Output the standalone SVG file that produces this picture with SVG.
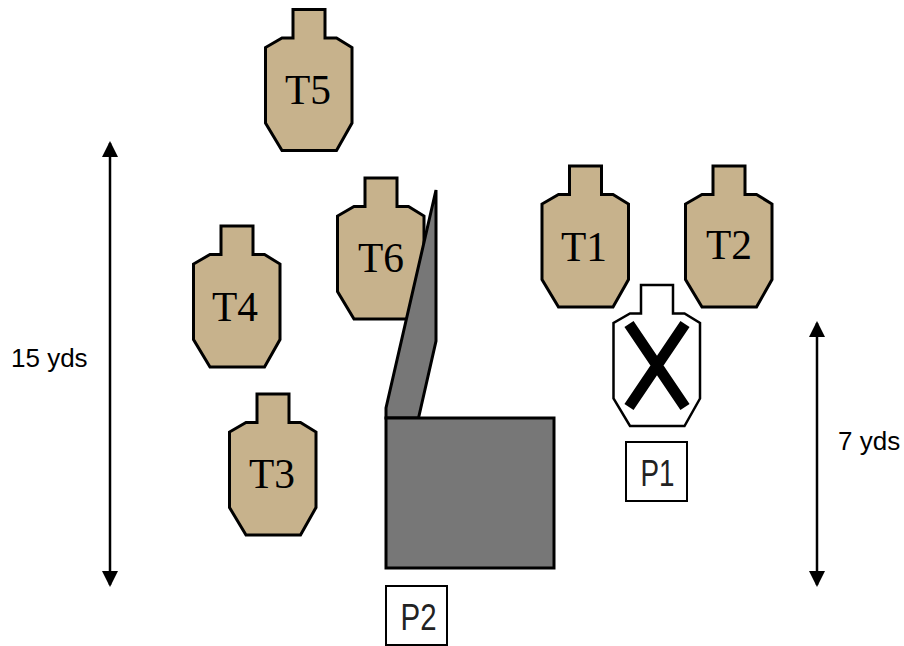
<svg xmlns="http://www.w3.org/2000/svg" width="904" height="646" viewBox="0 0 904 646">
<style>
.t{fill:#c7b28c;stroke:#000;stroke-width:3;stroke-linejoin:miter}
.tl{font-family:"Liberation Serif","Times New Roman",serif;font-size:43px;fill:#000;text-anchor:middle}
.gray{fill:#777;stroke:#000;stroke-width:3}
.box{fill:#fff;stroke:#000;stroke-width:2}
.pl{font-family:"Liberation Sans",Arial,sans-serif;font-size:37px;fill:#222;text-anchor:middle}
.dl{font-family:"Liberation Sans",Arial,sans-serif;font-size:26px;fill:#000}
.arr{fill:none;stroke:#000;stroke-width:2.5;marker-start:url(#ah);marker-end:url(#ah)}
</style>
<defs>
<marker id="ah" viewBox="0 0 16 16" refX="14" refY="8" markerWidth="16" markerHeight="16" markerUnits="userSpaceOnUse" orient="auto-start-reverse"><path d="M0 0L16 8L0 16Z" fill="#000"/></marker>
<path id="sil" d="M27.5 0H59.5V28.5H71L86.500 38V113.500L71 141H16.500L0 113.500V38L16.500 28.500H27.500Z"/>
</defs>
<g id="T5"><use href="#sil" class="t" x="265.500" y="9.500"/><text class="tl" x="308" y="104" textLength="46" lengthAdjust="spacingAndGlyphs">T5</text></g>
<g id="T1"><use href="#sil" class="t" x="542" y="166"/><text class="tl" x="584" y="261" textLength="46" lengthAdjust="spacingAndGlyphs">T1</text></g>
<g id="T2"><use href="#sil" class="t" x="685.500" y="166"/><text class="tl" x="729" y="259" textLength="46" lengthAdjust="spacingAndGlyphs">T2</text></g>
<g id="T6"><use href="#sil" class="t" x="337.500" y="178"/><text class="tl" x="381" y="272" textLength="46" lengthAdjust="spacingAndGlyphs">T6</text></g>
<g id="T4"><use href="#sil" class="t" x="193.500" y="226"/><text class="tl" x="235" y="321" textLength="46" lengthAdjust="spacingAndGlyphs">T4</text></g>
<g id="T3"><use href="#sil" class="t" x="229.500" y="394"/><text class="tl" x="272" y="488" textLength="46" lengthAdjust="spacingAndGlyphs">T3</text></g>
<g id="wall"><path class="gray" d="M436 190V341L418.500 418H386V408Z"/><rect class="gray" x="386" y="418" width="168" height="150"/></g>
<g id="P1target"><use href="#sil" fill="#fff" stroke="#000" stroke-width="2.500" x="613.500" y="285"/><path d="M629 324L685 407M685 324L629 407" stroke="#000" stroke-width="11" fill="none"/></g>
<g id="P1"><rect class="box" x="626" y="442" width="61" height="59"/><text class="pl" x="657.500" y="486" textLength="34" lengthAdjust="spacingAndGlyphs">P1</text></g>
<g id="P2"><rect class="box" x="386" y="586" width="61" height="59"/><text class="pl" x="418.500" y="630" textLength="36" lengthAdjust="spacingAndGlyphs">P2</text></g>
<g id="connectors"><path class="arr" d="M110 143V585"/><path class="arr" d="M817 323V585"/></g>
<text class="dl" x="11" y="367">15 yds</text>
<text class="dl" x="838" y="450">7 yds</text>
</svg>
